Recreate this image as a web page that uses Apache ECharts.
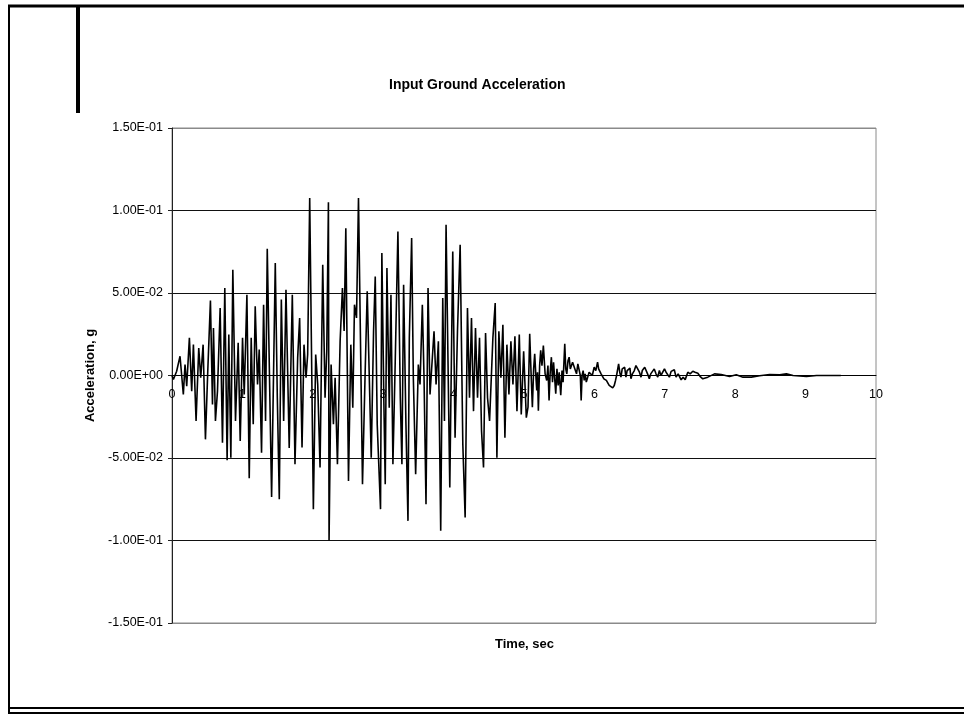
<!DOCTYPE html>
<html>
<head>
<meta charset="utf-8">
<script src="https://cdn.jsdelivr.net/npm/echarts@6/dist/echarts.min.js"></script>
<style>
html,body{margin:0;padding:0;background:#fff;}
#chart{width:964px;height:721px;}
</style>
</head>
<body>
<div id="chart"></div>
<script>
// ---- Data (time in s, acceleration in g) ----
const timeA = [0.00,0.02,0.066,0.114,0.161,0.185,0.209,0.247,0.280,0.304,0.342,0.380,0.408,0.442,0.475,0.508,0.546,0.575,0.589,0.617,0.646,0.684,0.717,0.750,0.783,0.807,0.836,0.864,0.902,0.940,0.969,1.002,1.026,1.064,1.097,1.125,1.154,1.182,1.215,1.239,1.272,1.301,1.329,1.353,1.415,1.467,1.496,1.524,1.553,1.586,1.619,1.665];
const accelA = [0.0000,-0.0024,0.0026,0.0117,-0.0115,0.0067,-0.0065,0.0228,-0.0095,0.0187,-0.0276,0.0167,-0.0014,0.0187,-0.0387,0.0026,0.0454,-0.0175,0.0288,-0.0276,-0.0095,0.0409,-0.0407,0.0530,-0.0514,0.0248,-0.0498,0.0641,-0.0276,0.0198,-0.0397,0.0228,-0.0115,0.0490,-0.0623,0.0228,-0.0296,0.0419,-0.0054,0.0157,-0.0468,0.0429,-0.0276,0.0768,-0.0736,0.0681,-0.0135,-0.0750,0.0460,-0.0276,0.0520,-0.0440];

const timeB = [1.709,1.747,1.785,1.813,1.847,1.875,1.904,1.927,1.956,2.008,2.041,2.070,2.103,2.141,2.174,2.198,2.222,2.231,2.260,2.293,2.317,2.350,2.388,2.421,2.445,2.469,2.507,2.540,2.568,2.592,2.621,2.649,2.706,2.744,2.773,2.830,2.863,2.887,2.915,2.962,2.981,3.010,3.029,3.053,3.086,3.110,3.138,3.171,3.209,3.243,3.266,3.290,3.323,3.352];
const accelB = [0.0490,-0.0538,0.0107,0.0349,-0.0437,0.0187,-0.0014,0.0127,0.1075,-0.0810,0.0127,-0.0054,-0.0558,0.0671,-0.0135,0.0147,0.1050,-0.1000,0.0067,-0.0296,-0.0014,-0.0538,0.0208,0.0530,0.0270,0.0893,-0.0639,0.0187,-0.0196,0.0429,0.0349,0.1075,-0.0659,0.0026,0.0510,-0.0498,0.0268,0.0600,-0.0296,-0.0810,0.0742,-0.0175,-0.0659,0.0651,-0.0196,0.0490,-0.0538,0.0087,0.0873,-0.0135,-0.0538,0.0550,-0.0296,-0.0881];

const timeC = [3.371,3.404,3.428,3.461,3.499,3.523,3.556,3.580,3.608,3.637,3.665,3.722,3.751,3.784,3.817,3.846,3.870,3.893,3.946,3.988,4.021,4.055,4.093,4.131,4.164,4.197,4.226,4.254,4.283,4.311,4.340,4.368,4.397,4.425,4.454,4.482,4.511,4.558,4.591,4.615,4.643,4.672,4.700,4.729,4.757,4.786,4.814,4.843,4.871,4.900,4.933,4.961,4.995,5.033];
const accelC = [0.0228,0.0833,-0.0014,-0.0599,0.0067,-0.0054,0.0429,-0.0014,-0.0780,0.0530,-0.0115,0.0268,-0.0054,0.0208,-0.0941,0.0470,-0.0276,0.0913,-0.0679,0.0752,-0.0377,0.0268,0.0792,-0.0417,-0.0861,0.0409,-0.0135,0.0349,-0.0216,0.0288,-0.0135,0.0228,-0.0337,-0.0558,0.0258,-0.0135,-0.0276,0.0228,0.0439,-0.0498,0.0268,-0.0014,0.0308,-0.0377,0.0187,-0.0115,0.0208,-0.0054,0.0238,-0.0216,0.0248,-0.0236,0.0147,-0.0256];

const timeD = [5.057,5.081,5.100,5.119,5.137,5.152,5.167,5.181,5.192,5.204,5.222,5.237,5.255,5.275,5.300,5.323,5.340,5.356,5.372,5.389,5.405,5.420,5.436,5.451,5.468,5.485,5.500,5.522,5.540,5.555,5.579,5.593,5.608,5.625,5.641,5.658,5.674,5.690,5.712,5.730,5.746,5.765,5.784,5.800,5.812,5.825];
const accelD = [-0.0192,0.0253,0.0020,-0.0192,0.0040,0.0132,0.0010,-0.0091,0.0020,-0.0213,0.0060,0.0152,0.0060,0.0182,0.0010,-0.0030,0.0060,-0.0152,0.0020,0.0111,-0.0040,0.0080,-0.0020,-0.0111,0.0040,-0.0060,0.0020,-0.0120,0.0030,-0.0040,0.0192,0.0040,0.0010,0.0090,0.0111,0.0040,0.0030,0.0080,0.0071,0.0030,0.0010,0.0070,0.0061,0.0000,-0.0152,0.0000];

const timeE = [5.840,5.855,5.869,5.885,5.902,5.925,5.950,5.970,5.997,6.020,6.045,6.060,6.078,6.095,6.116,6.135,6.154,6.170,6.187,6.210,6.235,6.260,6.282,6.300,6.315,6.344,6.360,6.377,6.395,6.410,6.430,6.448,6.465,6.486,6.505,6.519,6.540,6.567,6.590,6.614,6.640,6.662,6.680,6.695,6.715,6.733,6.755,6.780,6.800,6.828,6.850,6.875,6.900,6.923,6.945,6.970,6.995,7.018,7.040,7.065,7.090,7.113,7.135,7.160,7.190,7.232,7.260,7.290,7.327,7.360,7.398,7.430,7.469,7.500,7.540,7.575,7.611,7.706,7.801,7.920,8.015,8.110,8.229,8.347,8.490,8.632,8.727,8.822,9.012,9.155,9.345,9.500];
const accelE = [0.0030,-0.0030,0.0010,-0.0040,-0.0030,0.0020,0.0030,0.0000,0.0051,0.0030,0.0081,0.0040,0.0051,0.0010,0.0020,-0.0020,-0.0010,-0.0030,-0.0020,-0.0060,-0.0071,-0.0075,-0.0061,-0.0030,0.0000,0.0071,0.0020,-0.0010,0.0040,0.0030,0.0050,-0.0010,0.0030,0.0020,0.0045,-0.0020,0.0010,0.0030,0.0060,0.0051,0.0020,-0.0010,0.0030,0.0020,0.0050,0.0040,0.0010,-0.0020,0.0010,0.0020,0.0040,0.0010,-0.0010,0.0030,0.0000,0.0010,0.0040,0.0020,0.0030,-0.0010,0.0025,0.0020,0.0035,-0.0010,0.0010,-0.0026,-0.0010,-0.0025,0.0020,0.0010,0.0026,0.0020,0.0014,-0.0005,-0.0020,-0.0015,-0.0010,0.0010,0.0006,-0.0006,0.0004,-0.0010,-0.0010,-0.0002,0.0006,0.0004,0.0010,0.0000,-0.0006,0.0000,0.0000,0.0000];

const xTicks = [0,1,2,3,4,5,6,7,8,9,10];
const yTicks = [-0.15,-0.10,-0.05,0,0.05,0.10,0.15];

const titleText = 'Input Ground Acceleration';
const xName = 'Time, sec';
const yName = 'Acceleration, g';

// ---- Build series ----
const times = timeA.concat(timeB, timeC, timeD, timeE);
const accel = accelA.concat(accelB, accelC, accelD, accelE);
const seriesData = times.map((t, i) => [t, accel[i]]);

function excelSci(v) {
  if (Math.abs(v) < 1e-9) return '0.00E+00';
  const s = v.toExponential(2);
  const parts = s.split('e');
  const e = parseInt(parts[1], 10);
  const sign = e < 0 ? '-' : '+';
  const n = Math.abs(e);
  return parts[0] + 'E' + sign + (n < 10 ? '0' : '') + n;
}

const FONT = "'Liberation Sans', Arial, sans-serif";
const GRID = {left: 172, right: 88, top: 128, bottom: 98};
const plotH = 721 - GRID.top - GRID.bottom;
const yMin = yTicks[0], yMax = yTicks[yTicks.length - 1];
// distance of zero line above the plot bottom, so the time axis sits on y = 0 as in the reference
const zeroOffset = -plotH * (0 - yMin) / (yMax - yMin);

const chart = echarts.init(document.getElementById('chart'), null, {renderer: 'canvas'});
chart.setOption({
  animation: false,
  backgroundColor: '#ffffff',
  title: [
    {text: titleText, left: 389, top: 78, padding: 0,
     textStyle: {fontFamily: FONT, fontSize: 14, fontWeight: 'bold', color: '#000'}},
    {text: xName, left: 495, top: 638, padding: 0,
     textStyle: {fontFamily: FONT, fontSize: 13, fontWeight: 'bold', color: '#000'}}
  ],
  grid: Object.assign({show: true, borderColor: '#8a8a8a', borderWidth: 1, backgroundColor: 'transparent'}, GRID),
  xAxis: {
    type: 'value', min: xTicks[0], max: xTicks[xTicks.length - 1], interval: 1,
    position: 'bottom', offset: zeroOffset,
    axisLine: {show: true, onZero: false, lineStyle: {color: '#000', width: 1}},
    axisTick: {show: false},
    splitLine: {show: false},
    axisLabel: {margin: 13, fontFamily: FONT, fontSize: 12.5, color: '#000',
                showMinLabel: true, showMaxLabel: true}
  },
  yAxis: {
    type: 'value', min: yMin, max: yMax, interval: 0.05,
    name: yName, nameLocation: 'middle', nameGap: 74, nameRotate: 90,
    nameTextStyle: {fontFamily: FONT, fontSize: 13, fontWeight: 'bold', color: '#000'},
    axisLine: {show: true, lineStyle: {color: '#222', width: 1}},
    axisTick: {show: true, length: 4, inside: false, lineStyle: {color: '#222'}},
    splitLine: {show: true, lineStyle: {color: ['#8a8a8a','#111','#111','#111','#111','#111','#8a8a8a'], width: 1}},
    axisLabel: {margin: 9, fontFamily: FONT, fontSize: 12.5, color: '#000',
                formatter: excelSci}
  },
  series: [{
    type: 'line', data: seriesData, showSymbol: false, symbol: 'none',
    lineStyle: {color: '#000', width: 1.6}, z: 3
  }],
  graphic: [
    {type: 'line', shape: {x1: 8, y1: 6, x2: 964, y2: 6}, style: {stroke: '#000', lineWidth: 3}},
    {type: 'line', shape: {x1: 9, y1: 5, x2: 9, y2: 714}, style: {stroke: '#000', lineWidth: 2}},
    {type: 'line', shape: {x1: 78, y1: 5, x2: 78, y2: 113}, style: {stroke: '#000', lineWidth: 4}},
    {type: 'line', shape: {x1: 9, y1: 708, x2: 964, y2: 708}, style: {stroke: '#000', lineWidth: 2}},
    {type: 'line', shape: {x1: 9, y1: 713, x2: 964, y2: 713}, style: {stroke: '#000', lineWidth: 2}}
  ]
});
</script>
</body>
</html>
